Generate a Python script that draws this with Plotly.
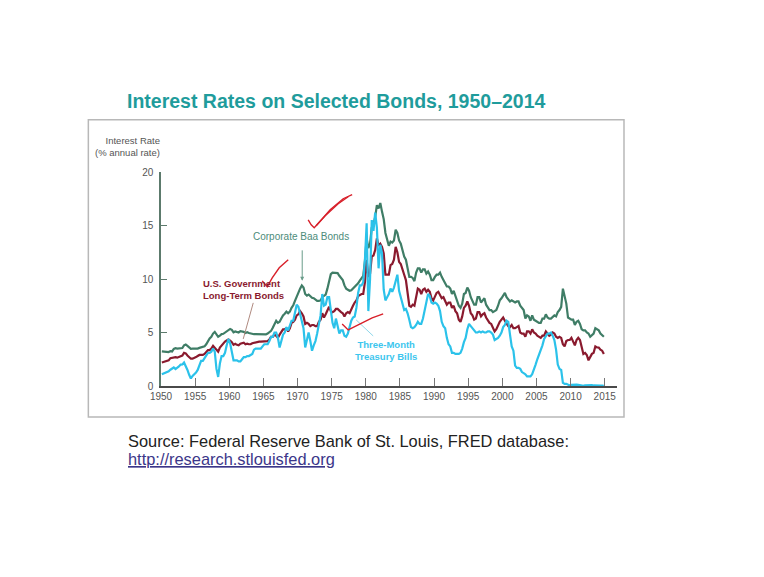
import plotly.graph_objects as go

# ---------------- data (quarterly) ----------------
years = list(range(1950, 2015))

baa_q = [
    [3.24, 3.24, 3.21, 3.20], [3.17, 3.26, 3.23, 3.46], [3.54, 3.50, 3.50, 3.51],
    [3.55, 3.80, 3.88, 3.75], [3.60, 3.48, 3.49, 3.47], [3.47, 3.50, 3.56, 3.62],
    [3.62, 3.70, 3.90, 4.20], [4.45, 4.60, 4.90, 5.05], [4.80, 4.60, 4.70, 4.85],
    [4.88, 5.00, 5.12, 5.25], [5.33, 5.25, 5.02, 5.10], [5.07, 5.00, 5.12, 5.10],
    [5.06, 4.96, 5.02, 4.95], [4.90, 4.85, 4.84, 4.85], [4.84, 4.82, 4.81, 4.80],
    [4.80, 4.83, 4.90, 5.00], [5.15, 5.45, 5.80, 6.10], [5.90, 6.00, 6.30, 6.60],
    [6.75, 6.95, 6.80, 6.95], [7.30, 7.55, 7.95, 8.40], [8.85, 9.10, 9.40, 9.20],
    [8.60, 8.45, 8.55, 8.35], [8.25, 8.20, 8.10, 7.95], [7.95, 8.00, 8.30, 8.45],
    [8.55, 9.10, 9.90, 10.45], [10.60, 10.60, 10.55, 10.55], [10.30, 10.05, 9.90, 9.40],
    [9.10, 9.00, 8.90, 8.95], [9.10, 9.30, 9.40, 9.60], [9.85, 10.10, 10.30, 11.70],
    [13.80, 12.90, 13.30, 14.80], [15.10, 15.80, 16.90, 16.60], [17.10, 16.30, 15.60, 14.30],
    [13.70, 13.10, 13.50, 13.40], [13.60, 14.60, 14.30, 13.60], [13.30, 12.60, 12.10, 11.80],
    [10.80, 10.20, 10.20, 10.10], [9.80, 10.60, 11.00, 11.00], [10.60, 10.90, 10.90, 10.50],
    [10.70, 10.40, 9.90, 9.90], [10.20, 10.40, 10.40, 10.60], [10.20, 9.95, 9.60, 9.30],
    [9.30, 9.10, 8.60, 8.90], [8.40, 8.05, 7.50, 7.30], [7.70, 8.60, 8.70, 9.20],
    [8.90, 8.30, 8.00, 7.60], [7.60, 8.30, 8.30, 7.80], [8.00, 8.20, 7.60, 7.40],
    [7.10, 7.10, 6.90, 7.00], [7.10, 7.50, 8.00, 8.20], [8.40, 8.70, 8.30, 8.10],
    [7.90, 8.00, 7.90, 7.80], [7.90, 7.90, 7.50, 7.30], [7.10, 6.30, 6.60, 6.50],
    [6.10, 6.60, 6.20, 6.10], [6.00, 5.90, 5.90, 6.30], [6.30, 6.70, 6.40, 6.30],
    [6.30, 6.50, 6.60, 6.50], [6.90, 7.10, 7.40, 9.10], [8.40, 7.70, 6.40, 6.30],
    [6.20, 6.20, 5.70, 6.00], [6.10, 5.80, 5.30, 5.20], [5.20, 5.00, 4.90, 4.60],
    [4.80, 4.90, 5.40, 5.30], [5.20, 4.90, 4.70, 4.60],
]

govt_q = [
    [2.20, 2.25, 2.30, 2.35], [2.40, 2.60, 2.65, 2.70], [2.70, 2.65, 2.70, 2.75],
    [2.85, 3.10, 3.05, 2.85], [2.65, 2.55, 2.55, 2.60], [2.70, 2.80, 2.90, 2.90],
    [2.90, 3.00, 3.20, 3.35], [3.35, 3.50, 3.75, 3.55], [3.30, 3.20, 3.60, 3.80],
    [4.00, 4.15, 4.25, 4.35], [4.25, 4.10, 3.85, 3.95], [3.85, 3.80, 3.95, 4.00],
    [4.05, 3.90, 3.95, 3.90], [3.90, 4.00, 4.05, 4.10], [4.15, 4.15, 4.15, 4.15],
    [4.15, 4.15, 4.20, 4.35], [4.60, 4.60, 4.80, 4.70], [4.50, 4.80, 5.00, 5.30],
    [5.30, 5.40, 5.10, 5.40], [5.90, 6.00, 6.20, 6.60], [6.70, 7.00, 6.80, 6.50],
    [5.80, 5.90, 5.80, 5.60], [5.70, 5.70, 5.60, 5.60], [6.00, 6.20, 6.80, 6.40],
    [6.70, 7.10, 7.40, 7.00], [6.90, 7.00, 7.20, 7.20], [7.00, 6.90, 6.80, 6.50],
    [6.80, 6.90, 6.80, 7.20], [7.50, 7.80, 8.00, 8.40], [8.50, 8.60, 8.60, 9.70],
    [11.80, 10.20, 10.50, 12.10], [12.20, 12.70, 13.80, 13.10], [13.30, 13.00, 12.40, 10.40],
    [10.40, 10.40, 11.30, 11.40], [11.80, 13.00, 12.50, 11.60], [11.40, 10.80, 10.40, 9.90],
    [8.60, 7.50, 7.40, 7.60], [7.50, 8.40, 9.10, 9.00], [8.60, 9.00, 9.10, 8.80],
    [9.00, 8.80, 8.20, 8.00], [8.40, 8.70, 8.80, 8.50], [8.20, 8.30, 8.00, 7.60],
    [7.80, 7.80, 7.30, 7.50], [7.00, 6.80, 6.20, 6.00], [6.50, 7.30, 7.50, 7.90],
    [7.50, 6.80, 6.60, 6.20], [6.30, 6.90, 6.90, 6.50], [6.70, 6.80, 6.40, 6.10],
    [5.90, 5.80, 5.50, 5.10], [5.30, 5.70, 6.00, 6.20], [6.40, 6.10, 5.80, 5.60],
    [5.50, 5.70, 5.40, 5.40], [5.50, 5.60, 5.00, 4.90], [4.90, 4.60, 5.10, 5.10],
    [4.90, 5.30, 5.00, 4.90], [4.70, 4.60, 4.50, 4.70], [4.70, 5.10, 4.90, 4.70],
    [4.80, 5.00, 4.90, 4.60], [4.50, 4.60, 4.50, 3.90], [3.70, 4.20, 4.30, 4.30],
    [4.50, 4.20, 3.80, 4.30], [4.50, 4.30, 3.50, 3.00], [3.10, 2.90, 2.40, 2.70],
    [3.00, 3.10, 3.70, 3.60], [3.60, 3.40, 3.30, 3.00],
]

tbill_q = [
    [1.10, 1.16, 1.22, 1.35], [1.38, 1.52, 1.64, 1.73], [1.58, 1.67, 1.83, 2.00],
    [2.02, 2.20, 1.90, 1.50], [1.05, 0.70, 0.95, 1.10], [1.25, 1.50, 2.00, 2.35],
    [2.35, 2.60, 2.85, 3.10], [3.10, 3.20, 3.50, 3.20], [1.60, 0.85, 2.10, 2.80],
    [2.80, 3.10, 3.80, 4.40], [4.00, 3.10, 2.40, 2.40], [2.40, 2.30, 2.30, 2.50],
    [2.70, 2.70, 2.80, 2.80], [2.90, 3.00, 3.40, 3.50], [3.50, 3.50, 3.50, 3.70],
    [3.90, 3.90, 3.90, 4.20], [4.60, 4.60, 5.00, 5.00], [4.50, 3.60, 4.30, 4.80],
    [5.00, 5.50, 5.20, 5.60], [6.10, 6.10, 7.00, 7.60], [7.40, 6.70, 6.30, 5.40],
    [3.60, 4.20, 5.00, 4.20], [3.30, 3.80, 4.20, 4.90], [5.60, 6.60, 8.60, 7.50],
    [7.60, 8.30, 8.30, 7.30], [5.90, 5.40, 6.30, 5.60], [4.90, 5.20, 5.20, 4.70],
    [4.60, 4.90, 5.50, 6.10], [6.40, 6.50, 7.30, 8.70], [9.40, 9.40, 9.70, 11.80],
    [15.20, 7.00, 10.00, 15.50], [14.50, 16.20, 14.80, 11.00], [13.20, 12.40, 9.00, 8.00],
    [8.30, 8.60, 9.10, 8.80], [9.20, 9.80, 10.40, 8.90], [8.20, 7.50, 7.10, 7.20],
    [6.80, 6.20, 5.50, 5.40], [5.50, 5.70, 6.00, 5.80], [5.80, 6.30, 7.00, 7.70],
    [8.60, 8.40, 7.80, 7.70], [7.80, 7.70, 7.50, 7.00], [6.00, 5.60, 5.40, 4.50],
    [3.90, 3.70, 3.10, 3.10], [3.00, 3.00, 3.00, 3.10], [3.50, 4.10, 4.50, 5.30],
    [5.80, 5.60, 5.40, 5.30], [5.00, 5.00, 5.10, 5.00], [5.10, 5.00, 5.00, 5.10],
    [5.10, 5.00, 4.80, 4.30], [4.40, 4.50, 4.70, 5.00], [5.50, 5.70, 6.10, 6.00],
    [4.80, 3.70, 3.30, 1.90], [1.70, 1.70, 1.60, 1.30], [1.20, 1.10, 0.90, 0.90],
    [0.90, 1.10, 1.50, 2.00], [2.50, 2.90, 3.40, 3.80], [4.40, 4.70, 4.90, 4.90],
    [5.00, 4.70, 4.30, 3.40], [2.00, 1.60, 1.50, 0.30], [0.20, 0.20, 0.15, 0.05],
    [0.10, 0.12, 0.15, 0.12], [0.10, 0.05, 0.03, 0.01], [0.07, 0.09, 0.10, 0.09],
    [0.09, 0.05, 0.03, 0.06], [0.05, 0.03, 0.03, 0.02],
]

x_ticks = [1950, 1955, 1960, 1965, 1970, 1975, 1980, 1985, 1990, 1995, 2000, 2005, 2010, 2015]
y_ticks = [0, 5, 10, 15, 20]

dates = [y + (q + 0.5) / 4 for y in years for q in range(4)]
baa = [v for row in baa_q for v in row]
govt = [v for row in govt_q for v in row]
tbill = [v for row in tbill_q for v in row]

# ---------------- styling ----------------
W, H = 764, 577
L, R, T, B = 160.7, 617.0, 172.3, 386.0

GREEN = "#3f7d66"
GREEN_TXT = "#4d8c7a"
RED = "#8a1a2e"
CYAN = "#2bc2ea"
AX = "#555555"
SANS = "Liberation Sans, Arial, sans-serif"


def P(px, py):
    return (px - L) / (R - L), (B - py) / (B - T)


def path(points):
    s = ""
    for i, (px, py) in enumerate(points):
        x, y = P(px, py)
        s += ("M" if i == 0 else " L") + f"{x:.4f},{y:.4f}"
    return s


fig = go.Figure()
fig.add_trace(go.Scatter(x=dates, y=baa, mode="lines", line=dict(color=GREEN, width=2.2),
                         name="Corporate Baa Bonds", showlegend=False))
fig.add_trace(go.Scatter(x=dates, y=govt, mode="lines", line=dict(color=RED, width=2.2),
                         name="U.S. Government Long-Term Bonds", showlegend=False))
fig.add_trace(go.Scatter(x=dates, y=tbill, mode="lines", line=dict(color=CYAN, width=2.2),
                         name="Three-Month Treasury Bills", showlegend=False))

shapes = []
# outer frame
x0, y0 = P(88, 120)
x1, y1 = P(624, 417)
shapes.append(dict(type="rect", xref="paper", yref="paper", x0=x0, y0=y1, x1=x1, y1=y0,
                   line=dict(color="#b8b8b8", width=1.5), layer="below"))
# pointer lines
for (a, b, col) in [((253, 303), (243, 339), "#b08a80"), ((356, 320), (373, 336), "#8fd7ea")]:
    xa, ya = P(*a)
    xb, yb = P(*b)
    shapes.append(dict(type="line", xref="paper", yref="paper", x0=xa, y0=ya, x1=xb, y1=yb,
                       line=dict(color=col, width=1)))
# hand-drawn red marks
for pts in [
    [(308, 220), (311, 225), (314, 228), (325, 216), (338, 204), (348, 197)],
    [(316, 226), (330, 210), (343, 199), (352, 195)],
    [(262, 281), (267, 287), (272, 278), (279, 268), (288, 260)],
    [(342, 324), (348, 330), (360, 324), (372, 318), (383, 314)],
]:
    shapes.append(dict(type="path", xref="paper", yref="paper", path=path(pts),
                       line=dict(color="#d8202a", width=1.4)))

annotations = []


def text(px, py, s, size, color, xanchor="center", align="center"):
    x, y = P(px, py)
    annotations.append(dict(x=x, y=y, xref="paper", yref="paper", text=s, showarrow=False,
                            xanchor=xanchor, yanchor="middle", align=align,
                            font=dict(size=size, color=color, family=SANS)))


text(336.5, 101, "<b>Interest Rates on Selected Bonds, 1950–2014</b>", 19.5, "#1f9c9c")
text(162, 147, "Interest Rate<br>(% annual rate)", 9.5, AX, xanchor="right", align="right")
text(301, 237, "Corporate Baa Bonds", 10, GREEN_TXT)
text(201, 290, "<b>U.S. Government<br>Long-Term Bonds</b>", 9.5, RED, xanchor="left", align="left")
text(386, 351, "<b>Three-Month<br>Treasury Bills</b>", 9.5, "#3cc6ee")
text(125.5, 441, "Source: Federal Reserve Bank of St. Louis, FRED database:", 16.4, "#222222",
     xanchor="left", align="left")
text(125.5, 459, "<u>http://research.stlouisfed.org</u>", 16.4, "#3b3689", xanchor="left", align="left")

# arrow to the Baa line
xt, yt = P(302, 281)
annotations.append(dict(x=xt, y=yt, xref="paper", yref="paper", text="", showarrow=True,
                        ax=0, ay=-32, arrowhead=2, arrowsize=0.8, arrowwidth=1,
                        arrowcolor="#6a9c8a"))

fig.update_layout(
    width=W, height=H, autosize=False,
    margin=dict(l=L, r=W - R, t=T, b=H - B, pad=0),
    paper_bgcolor="white", plot_bgcolor="rgba(0,0,0,0)",
    shapes=shapes, annotations=annotations,
    xaxis=dict(range=[1950, 2016.8], tickvals=x_ticks, ticktext=[str(v) for v in x_ticks],
               ticks="inside", ticklen=8, tickcolor="#777777", tickwidth=1,
               showline=True, linecolor="#4a4a4a", linewidth=2, showgrid=False, zeroline=False,
               tickfont=dict(size=10, color=AX, family=SANS)),
    yaxis=dict(range=[0, 20], tickvals=y_ticks, ticks="inside", ticklen=6, tickcolor="#5c7a6c",
               tickwidth=1, showline=True, linecolor="#5c7a6c", linewidth=1.5,
               showgrid=False, zeroline=False, ticklabelstandoff=4,
               tickfont=dict(size=10, color=AX, family=SANS)),
)

fig.write_html("out.html")
